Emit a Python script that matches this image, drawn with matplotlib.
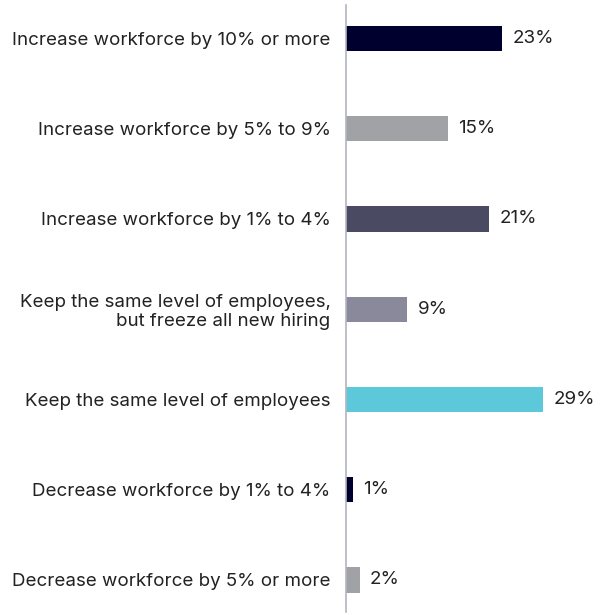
import matplotlib
matplotlib.use('Agg')
import matplotlib.pyplot as plt

categories = [
    'Increase workforce by 10% or more',
    'Increase workforce by 5% to 9%',
    'Increase workforce by 1% to 4%',
    'Keep the same level of employees,\nbut freeze all new hiring',
    'Keep the same level of employees',
    'Decrease workforce by 1% to 4%',
    'Decrease workforce by 5% or more',
]
values = [23, 15, 21, 9, 29, 1, 2]
colors = ['#00002E', '#A1A2A6', '#4A4A62', '#8A899B', '#5CC8DA', '#00002E', '#A1A2A6']

plt.rcParams['font.family'] = ['Inter', 'DejaVu Sans']

W, H = 608, 615
fig = plt.figure(figsize=(W / 100, H / 100), dpi=100)
ax = fig.add_axes([346 / W, 1 - 612 / H, 262 / W, 607 / H])

pos = list(range(len(values)))
ax.barh(pos, values, height=0.28, color=colors)
ax.set_xlim(0, 262 / 6.8)
ax.set_ylim(6 + 0.355, -0.371)

for p, v in zip(pos, values):
    ax.annotate(f'{v}%', (v, p), xytext=(7.5, 0), textcoords='offset points',
                va='center', ha='left', fontsize=13.5, color='#222222')

ax.set_yticks(pos)
ax.set_yticklabels(categories, fontsize=13.5, color='#222222', ha='right',
                   multialignment='right', linespacing=1.1)
ax.tick_params(axis='y', length=0, pad=11)
ax.set_xticks([])

for s in ['top', 'right', 'bottom']:
    ax.spines[s].set_visible(False)
ax.spines['left'].set_color('#B4B4C4')
ax.spines['left'].set_linewidth(1.2)

fig.savefig('out.png', dpi=100)
